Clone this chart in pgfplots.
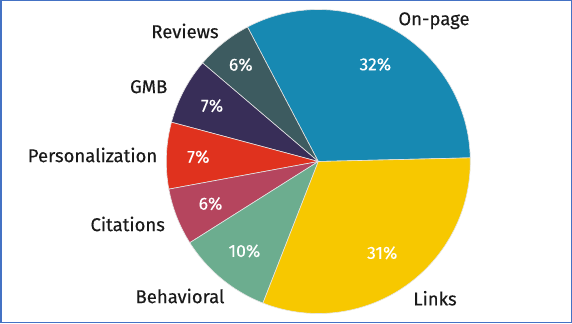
\documentclass[border=0pt]{standalone}
\usepackage{pgfplots}
\pgfplotsset{compat=1.18}
\usepackage{pgfplotstable}
\usepackage{fontspec}
\setmainfont{Fira Sans}[FakeBold=0.35]
\newfontfamily\pctfont{Fira Sans}[FakeBold=0.15]
\definecolor{conpage}{HTML}{1789B2}
\definecolor{creviews}{HTML}{3D5B60}
\definecolor{cgmb}{HTML}{382E58}
\definecolor{cpers}{HTML}{E0321E}
\definecolor{ccit}{HTML}{B5455E}
\definecolor{cbeh}{HTML}{6CAD8F}
\definecolor{clinks}{HTML}{F7C800}
\definecolor{frameblue}{HTML}{4472C4}
\definecolor{labeltext}{HTML}{1A1A1A}
% name, value, colour, outer label x, outer label y, radius of the percent label
\pgfplotstableread{
name value col lx ly pr
On-page 32 conpage 434 302.3 112.7
Reviews 6 creviews 185 292 124
GMB 7 cgmb 148.7 236.3 120
Personalization 7 cpers 92.5 168 120
Citations 6 ccit 127.7 99 115.7
Behavioral 10 cbeh 180 27 116
Links 31 clinks 435 24.7 111.5
}\piedata
\begin{document}
\begin{tikzpicture}
\begin{axis}[x=1pt,y=1pt,xmin=0,xmax=572,ymin=0,ymax=323,scale only axis,hide axis,clip=false]
\pgfplotsextra{
  \pgfplotstablegetrowsof{\piedata}\pgfmathtruncatemacro\last{\pgfplotsretval-1}
  \def\total{0}
  \foreach \i in {0,...,\last}{
    \pgfplotstablegetelem{\i}{value}\of\piedata
    \pgfmathsetmacro\t{\total+\pgfplotsretval}\xdef\total{\t}
  }
  \gdef\cum{1.4}
  \foreach \i in {0,...,\last}{
    \pgfplotstablegetelem{\i}{value}\of\piedata \edef\v{\pgfplotsretval}
    \pgfplotstablegetelem{\i}{col}\of\piedata \edef\c{\pgfplotsretval}
    \pgfplotstablegetelem{\i}{name}\of\piedata \edef\n{\pgfplotsretval}
    \pgfplotstablegetelem{\i}{lx}\of\piedata \edef\lx{\pgfplotsretval}
    \pgfplotstablegetelem{\i}{ly}\of\piedata \edef\ly{\pgfplotsretval}
    \pgfplotstablegetelem{\i}{pr}\of\piedata \edef\pr{\pgfplotsretval}
    \pgfmathsetmacro\a{\cum}
    \pgfmathsetmacro\b{\cum+\v/\total*360}
    \pgfmathsetmacro\m{(\a+\b)/2}
    \fill[fill=\c, draw=white!80!gray, line width=0.6pt]
      (axis cs:318.3,161.5) -- ++(\a:152pt) arc[start angle=\a, end angle=\b, radius=152pt] -- cycle;
    \path (axis cs:318.3,161.5) ++(\m:\pr pt) node[text=white, font=\pctfont\fontsize{17.5}{20}\selectfont]{\v\%};
    \node[text=labeltext, font=\fontsize{18.5}{21}\selectfont] at (axis cs:\lx,\ly) {\n};
    \xdef\cum{\b}
  }
  \draw[frameblue, line width=1.5pt] (axis cs:0.75,0.75) rectangle (axis cs:571.25,322.25);
}
\end{axis}
\end{tikzpicture}
\end{document}
